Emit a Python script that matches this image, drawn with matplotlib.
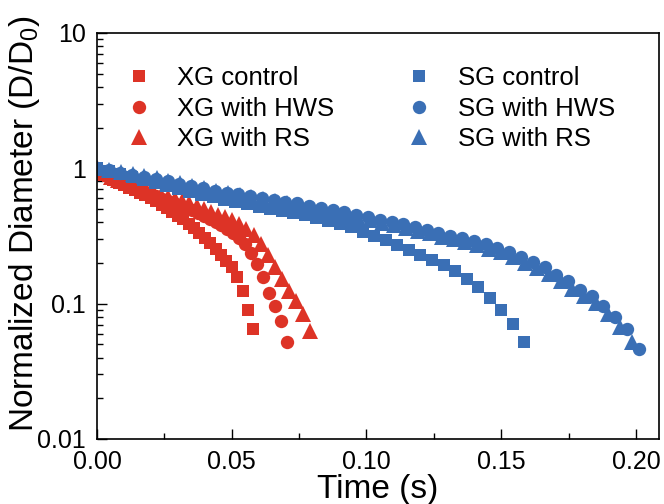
import numpy as np
import matplotlib
matplotlib.use("Agg")
import matplotlib.pyplot as plt
from matplotlib.ticker import MultipleLocator, LogLocator, FixedLocator, FixedFormatter, NullFormatter

plt.rcParams['font.family'] = ['Liberation Sans', 'DejaVu Sans']
plt.rcParams['mathtext.fontset'] = 'custom'
plt.rcParams['mathtext.rm'] = 'Liberation Sans'
plt.rcParams['mathtext.it'] = 'Liberation Sans'

# xanthan gum (XG) samples, time in s, normalized diameter D/D0
xg_ctrl_t = [0.000, 0.002, 0.004, 0.006, 0.008, 0.010, 0.012, 0.014, 0.016, 0.018,
             0.020, 0.022, 0.024, 0.026, 0.028, 0.030, 0.032, 0.034, 0.036, 0.038,
             0.040, 0.042, 0.044, 0.046, 0.048, 0.050, 0.052, 0.054, 0.056, 0.058]
xg_ctrl_d = [1.000, 0.933, 0.871, 0.822, 0.785, 0.750, 0.719, 0.689, 0.661, 0.631,
             0.600, 0.569, 0.537, 0.506, 0.476, 0.447, 0.419, 0.389, 0.361, 0.333,
             0.305, 0.279, 0.254, 0.230, 0.207, 0.186, 0.158, 0.123, 0.089, 0.065]

xg_hws_t = [0.0000, 0.0022, 0.0044, 0.0066, 0.0088, 0.0110, 0.0132, 0.0154, 0.0176, 0.0198,
            0.0220, 0.0242, 0.0264, 0.0286, 0.0308, 0.0330, 0.0352, 0.0374, 0.0396, 0.0418,
            0.0440, 0.0462, 0.0484, 0.0506, 0.0528, 0.0550, 0.0572, 0.0594, 0.0616, 0.0638,
            0.0660, 0.0682, 0.0704]
xg_hws_d = [1.000, 0.933, 0.881, 0.836, 0.794, 0.759, 0.728, 0.700, 0.673, 0.646,
            0.621, 0.597, 0.575, 0.553, 0.532, 0.511, 0.490, 0.468, 0.447, 0.425,
            0.402, 0.378, 0.355, 0.331, 0.305, 0.275, 0.237, 0.195, 0.157, 0.120,
            0.0955, 0.0741, 0.0525]

xg_rs_t = [0.0000, 0.0026, 0.0053, 0.0079, 0.0106, 0.0132, 0.0158, 0.0185, 0.0211, 0.0238,
           0.0264, 0.0290, 0.0317, 0.0343, 0.0370, 0.0396, 0.0422, 0.0449, 0.0475, 0.0502,
           0.0528, 0.0554, 0.0581, 0.0607, 0.0634, 0.0660, 0.0686, 0.0713, 0.0739, 0.0766,
           0.0792]
xg_rs_d = [1.000, 0.923, 0.861, 0.813, 0.776, 0.741, 0.711, 0.684, 0.661, 0.638,
           0.617, 0.596, 0.574, 0.550, 0.525, 0.499, 0.473, 0.452, 0.435, 0.416,
           0.389, 0.358, 0.322, 0.274, 0.229, 0.188, 0.153, 0.124, 0.104, 0.0841,
           0.0631]

# scleroglucan (SG) samples
sg_ctrl_t = [0.0000, 0.0043, 0.0086, 0.0129, 0.0171, 0.0214, 0.0257, 0.0300, 0.0343, 0.0386,
             0.0429, 0.0471, 0.0514, 0.0557, 0.0600, 0.0643, 0.0686, 0.0729, 0.0771, 0.0814,
             0.0857, 0.0900, 0.0943, 0.0986, 0.1029, 0.1071, 0.1114, 0.1157, 0.1200, 0.1243,
             0.1286, 0.1329, 0.1372, 0.1414, 0.1457, 0.1500, 0.1543, 0.1586]
sg_ctrl_d = [1.000, 0.953, 0.906, 0.863, 0.820, 0.782, 0.743, 0.706, 0.671, 0.640,
             0.611, 0.586, 0.564, 0.542, 0.521, 0.502, 0.484, 0.467, 0.448, 0.430,
             0.409, 0.389, 0.366, 0.340, 0.316, 0.293, 0.271, 0.249, 0.229, 0.211,
             0.193, 0.174, 0.153, 0.132, 0.111, 0.0902, 0.0708, 0.0519]

sg_hws_t = [0.0000, 0.0044, 0.0087, 0.0131, 0.0175, 0.0219, 0.0262, 0.0306, 0.0350, 0.0393,
            0.0437, 0.0481, 0.0524, 0.0568, 0.0612, 0.0656, 0.0699, 0.0743, 0.0787, 0.0830,
            0.0874, 0.0918, 0.0961, 0.1005, 0.1049, 0.1093, 0.1136, 0.1180, 0.1224, 0.1267,
            0.1311, 0.1355, 0.1398, 0.1442, 0.1486, 0.1530, 0.1573, 0.1617, 0.1661, 0.1704,
            0.1748, 0.1792, 0.1835, 0.1879, 0.1923, 0.1967, 0.2010]
sg_hws_d = [1.000, 0.964, 0.931, 0.897, 0.867, 0.836, 0.804, 0.771, 0.741, 0.711,
            0.684, 0.662, 0.641, 0.622, 0.604, 0.586, 0.568, 0.550, 0.531, 0.513,
            0.493, 0.473, 0.454, 0.436, 0.418, 0.401, 0.385, 0.367, 0.351, 0.334,
            0.318, 0.303, 0.288, 0.274, 0.259, 0.241, 0.221, 0.202, 0.185, 0.164,
            0.146, 0.127, 0.114, 0.0966, 0.0794, 0.0646, 0.0462]

sg_rs_t = [0.0000, 0.0044, 0.0088, 0.0132, 0.0176, 0.0221, 0.0265, 0.0309, 0.0353, 0.0397,
           0.0441, 0.0485, 0.0529, 0.0573, 0.0617, 0.0662, 0.0706, 0.0750, 0.0794, 0.0838,
           0.0882, 0.0926, 0.0970, 0.1014, 0.1058, 0.1103, 0.1147, 0.1191, 0.1235, 0.1279,
           0.1323, 0.1367, 0.1411, 0.1455, 0.1499, 0.1544, 0.1588, 0.1632, 0.1676, 0.1720,
           0.1764, 0.1808, 0.1852, 0.1896, 0.1940, 0.1985]
sg_rs_d = [1.000, 0.973, 0.940, 0.906, 0.875, 0.841, 0.809, 0.776, 0.745, 0.715,
           0.684, 0.659, 0.635, 0.614, 0.593, 0.573, 0.552, 0.532, 0.513, 0.493,
           0.473, 0.453, 0.433, 0.414, 0.396, 0.379, 0.363, 0.346, 0.330, 0.313,
           0.298, 0.283, 0.269, 0.254, 0.239, 0.220, 0.201, 0.183, 0.166, 0.146,
           0.129, 0.114, 0.101, 0.0832, 0.0676, 0.0525]

red = '#DD3326'
blue = '#3A6FB5'
sizes = {'s': 8.5, 'o': 9.6, '^': 11}

series = [
    (xg_ctrl_t, xg_ctrl_d, 's', red, 'XG control'),
    (xg_hws_t, xg_hws_d, 'o', red, 'XG with HWS'),
    (xg_rs_t, xg_rs_d, '^', red, 'XG with RS'),
    (sg_ctrl_t, sg_ctrl_d, 's', blue, 'SG control'),
    (sg_hws_t, sg_hws_d, 'o', blue, 'SG with HWS'),
    (sg_rs_t, sg_rs_d, '^', blue, 'SG with RS'),
]

fig = plt.figure(figsize=(6.64, 5.04), dpi=100)
ax = fig.add_axes([0.146, 0.129, 0.8464, 0.8056])

for t, d, m, c, lab in series:
    ax.plot(t, d, ls='none', marker=m, ms=sizes[m], color=c, mew=0, label=lab)

ax.set_yscale('log')
ax.set_xlim(0, 0.2085)
ax.set_ylim(0.01, 10)

ax.xaxis.set_major_locator(MultipleLocator(0.05))
ax.xaxis.set_minor_locator(MultipleLocator(0.025))
ax.xaxis.set_major_formatter(plt.FuncFormatter(lambda v, p: '%.2f' % v))
ax.yaxis.set_major_locator(FixedLocator([0.01, 0.1, 1, 10]))
ax.yaxis.set_major_formatter(FixedFormatter(['0.01', '0.1', '1', '10']))
ax.yaxis.set_minor_locator(LogLocator(base=10, subs=np.arange(2, 10)))
ax.yaxis.set_minor_formatter(NullFormatter())

ax.tick_params(which='both', direction='in', top=False, right=False, labelsize=18, width=1)
ax.tick_params(which='major', length=7)
ax.tick_params(which='minor', length=4)
ax.tick_params(axis='x', pad=8)
ax.tick_params(axis='y', pad=8)
for sp in ax.spines.values():
    sp.set_linewidth(1.2)

ax.set_xlabel('Time (s)', fontsize=24, labelpad=0)
ax.set_ylabel('Normalized Diameter (D/D$_0$)', fontsize=24)
ax.yaxis.set_label_coords(-0.097, 0.53)

ax.legend(ncol=2, loc='upper left', bbox_to_anchor=(0.01, 0.975), frameon=False,
          fontsize=18.5, numpoints=1, handlelength=1.0,
          handletextpad=1.0, columnspacing=2.8, labelspacing=0.25)

fig.savefig('out.png', dpi=100)
